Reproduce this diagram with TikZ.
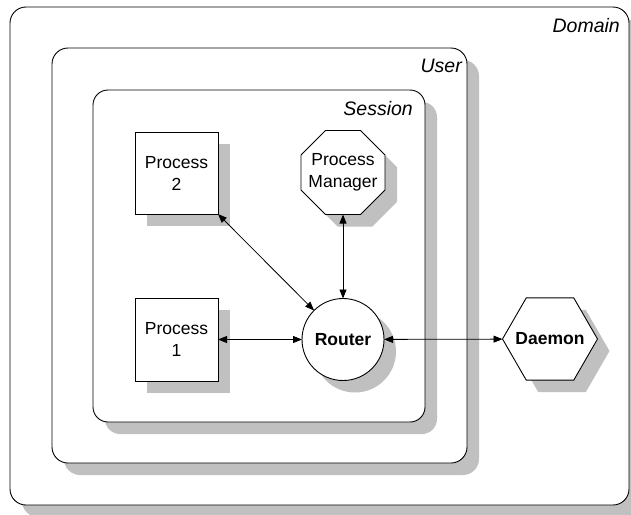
\documentclass[tikz,border=0pt]{standalone}
\usepackage{fontspec}
\setmainfont{Liberation Sans}
\usetikzlibrary{shapes.geometric,shadows,arrows.meta}
\definecolor{shadowgray}{HTML}{C0C0C0}
\begin{document}
\begin{tikzpicture}[x=1pt,y=-1pt,
  castshadow/.style={drop shadow={shadow xshift=12pt,shadow yshift=-12pt,fill=shadowgray,opacity=1}},
  region/.style={draw, fill=white, rounded corners=16pt, line width=0.9pt,
    castshadow, inner sep=0pt, outer sep=0pt, anchor=north west},
  regionlabel/.style={anchor=base east, inner sep=0pt,
    font=\fontsize{19.5}{23}\selectfont\itshape},
  proc/.style={draw, fill=white, line width=0.9pt, castshadow, inner sep=0pt,
    outer sep=0pt, align=center, font=\fontsize{17.5}{22}\selectfont},
  inlabel/.style={label={[align=center, inner sep=0pt, font=\fontsize{17.5}{22}\selectfont]center:#1}},
  inlabelbf/.style={label={[align=center, inner sep=0pt, font=\fontsize{17.5}{22}\selectfont\bfseries]center:#1}},
  conn/.style={line width=0.8pt, {Triangle[length=9pt,width=7pt]}-{Triangle[length=9pt,width=7pt]}}
]
\useasboundingbox (0,0) rectangle (631,514);

% nested containers
\node[region, minimum width=619pt, minimum height=498pt] (domain) at (10,7) {};
\node[regionlabel] (domainlbl) at (620,32) {Domain};
\node[region, minimum width=415pt, minimum height=415pt] (user) at (52,48) {};
\node[regionlabel] (userlbl) at (462,72) {User};
\node[region, minimum width=332pt, minimum height=332pt, rounded corners=15pt] (session) at (93,90) {};
\node[regionlabel] (sessionlbl) at (413,115) {Session};

% components
\node[proc, rectangle, minimum width=83pt, minimum height=82pt] (p2) at (176.5,173) {Process\\2};
\node[proc, rectangle, minimum width=83pt, minimum height=83pt] (p1) at (176.5,339.5) {Process\\1};
\node[proc, regular polygon, regular polygon sides=8, minimum size=91pt,
  inlabel={Process\\Manager}] (pm) at (343,172.5) {};
\node[proc, circle, minimum size=82pt, font=\fontsize{17.5}{22}\selectfont\bfseries] (router) at (343,339.5) {Router};
\node[proc, regular polygon, regular polygon sides=6, minimum size=95pt,
  inlabelbf={Daemon}] (daemon) at (550,339) {};

% connections
\draw[conn] (p2.south east) -- (router);
\draw[conn] (pm) -- (router);
\draw[conn] (p1) -- (router);
\draw[conn] (router) -- (daemon);
\end{tikzpicture}
\end{document}
